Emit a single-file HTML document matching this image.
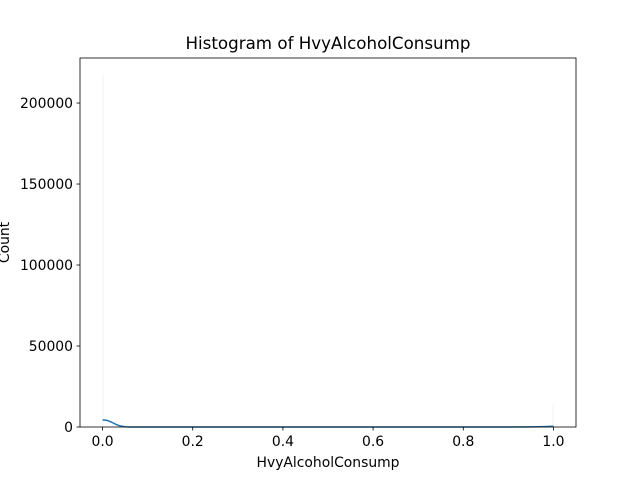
<!DOCTYPE html>
<html><head><meta charset="utf-8"><style>
body{margin:0;background:#fff;}
svg text{font-family:"DejaVu Sans","Liberation Sans",sans-serif;fill:#000;}
</style></head><body>
<svg id="chart" width="640" height="480" viewBox="0 0 640 480" xmlns="http://www.w3.org/2000/svg">
<rect width="640" height="480" fill="#fff"/>
<text x="328" y="49" font-size="16.7" text-anchor="middle">Histogram of HvyAlcoholConsump</text>
<g id="bars"></g>
<path id="kde" fill="none" stroke="#1f77b4" stroke-width="1.5"/>
<g id="xticks"></g>
<g id="yticks"></g>
<rect x="80" y="58" width="496" height="369" fill="none" stroke="#000" stroke-width="0.8"/>
<text x="328" y="467" font-size="13.9" text-anchor="middle">HvyAlcoholConsump</text>
<text transform="translate(9,242.5) rotate(-90)" font-size="13.9" text-anchor="middle">Count</text>
</svg>
<script>
const binStarts = [0.0, 0.998];
const binCounts = [217300, 14200];
const binWidth = 0.002;
const kdeX = [0.0, 0.01, 0.02, 0.03, 0.04, 0.05, 0.06, 0.1, 0.5, 0.9, 0.95, 0.98, 1.0];
const kdeY = [4400, 4100, 3000, 1600, 600, 150, 30, 0, 0, 0, 50, 250, 500];
const xTicks = [0.0, 0.2, 0.4, 0.6, 0.8, 1.0];
const xTickLabels = ["0.0", "0.2", "0.4", "0.6", "0.8", "1.0"];
const yTicks = [0, 50000, 100000, 150000, 200000];
const yTickLabels = ["0", "50000", "100000", "150000", "200000"];

const X0=80,X1=576,Y0=427,Y1=58, xmin=-0.05, xmax=1.05, ymin=0, ymax=227800;
const sx=v=>X0+(v-xmin)/(xmax-xmin)*(X1-X0);
const sy=v=>Y0-(v-ymin)/(ymax-ymin)*(Y0-Y1);
const NS="http://www.w3.org/2000/svg";
const bars=document.getElementById('bars');
binStarts.forEach((b,i)=>{
  const r=document.createElementNS(NS,'rect');
  const x=sx(b), w=Math.max(1,sx(b+binWidth)-x);
  r.setAttribute('x',x);r.setAttribute('width',w);
  r.setAttribute('y',sy(binCounts[i]));r.setAttribute('height',Y0-sy(binCounts[i]));
  r.setAttribute('fill','#eef2f7');
  
  
  bars.appendChild(r);
});
document.getElementById('kde').setAttribute('d',kdeX.map((x,i)=>(i?'L':'M')+sx(x).toFixed(2)+','+sy(kdeY[i]).toFixed(2)).join(' '));
const xt=document.getElementById('xticks');
xTicks.forEach((t,i)=>{
  const l=document.createElementNS(NS,'line');
  l.setAttribute('x1',sx(t));l.setAttribute('x2',sx(t));l.setAttribute('y1',Y0);l.setAttribute('y2',Y0+3.5);
  l.setAttribute('stroke','#000');l.setAttribute('stroke-width','0.8');
  
  
  xt.appendChild(l);
  const tx=document.createElementNS(NS,'text');
  tx.setAttribute('x',sx(t));tx.setAttribute('y',Y0+19);tx.setAttribute('font-size','13.9');tx.setAttribute('text-anchor','middle');
  tx.textContent=xTickLabels[i];
  
  
  xt.appendChild(tx);
});
const yt=document.getElementById('yticks');
yTicks.forEach((t,i)=>{
  const l=document.createElementNS(NS,'line');
  l.setAttribute('x1',X0-3.5);l.setAttribute('x2',X0);l.setAttribute('y1',sy(t));l.setAttribute('y2',sy(t));
  l.setAttribute('stroke','#000');l.setAttribute('stroke-width','0.8');
  
  
  yt.appendChild(l);
  const tx=document.createElementNS(NS,'text');
  tx.setAttribute('x',X0-7);tx.setAttribute('y',sy(t)+5);tx.setAttribute('font-size','13.9');tx.setAttribute('text-anchor','end');
  tx.textContent=yTickLabels[i];
  
  
  yt.appendChild(tx);
});
</script>
</body></html>
